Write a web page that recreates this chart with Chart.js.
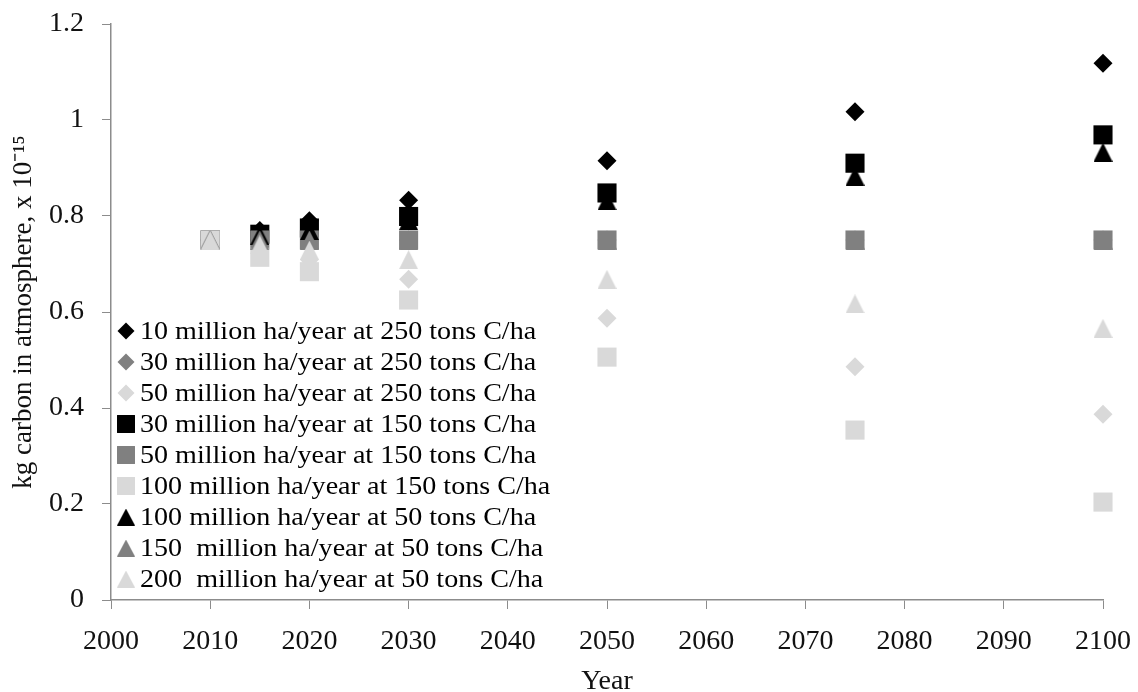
<!DOCTYPE html>
<html>
<head>
<meta charset="utf-8">
<script src="https://cdn.jsdelivr.net/npm/chart.js@4"></script>
<style>
  html, body { margin: 0; padding: 0; background: #fff; }
  #wrap { width: 1138px; height: 692px; }
</style>
</head>
<body>
<div id="wrap"><canvas id="chart" width="1138" height="692"></canvas></div>
<script>
// data
const years = [2010, 2015, 2020, 2030, 2050, 2075, 2100];

const s10at250 = [0.75, 0.77, 0.79, 0.833, 0.915, 1.017, 1.118];
const s30at250 = [0.75, 0.75, 0.75, 0.75, 0.75, 0.75, 0.75];
const s50at250 = [0.75, 0.73, 0.709, 0.668, 0.587, 0.486, 0.387];
const s30at150 = [0.75, 0.762, 0.775, 0.799, 0.848, 0.91, 0.969];
const s50at150 = [0.75, 0.75, 0.75, 0.75, 0.75, 0.75, 0.75];
const s100at150 = [0.75, 0.714, 0.684, 0.625, 0.506, 0.354, 0.204];
const s100at50 = [0.75, 0.76, 0.77, 0.791, 0.832, 0.883, 0.933];
const s150at50 = [0.75, 0.75, 0.75, 0.75, 0.75, 0.75, 0.75];
const s200at50 = [0.75, 0.74, 0.729, 0.709, 0.668, 0.617, 0.566];

const seriesLabels = [
  '10 million ha/year at 250 tons C/ha',
  '30 million ha/year at 250 tons C/ha',
  '50 million ha/year at 250 tons C/ha',
  '30 million ha/year at 150 tons C/ha',
  '50 million ha/year at 150 tons C/ha',
  '100 million ha/year at 150 tons C/ha',
  '100 million ha/year at 50 tons C/ha',
  '150  million ha/year at 50 tons C/ha',
  '200  million ha/year at 50 tons C/ha'
];
const seriesValues = [s10at250, s30at250, s50at250, s30at150, s50at150, s100at150, s100at50, s150at50, s200at50];

const xTicks = [2000, 2010, 2020, 2030, 2040, 2050, 2060, 2070, 2080, 2090, 2100];
const yTicks = [0, 0.2, 0.4, 0.6, 0.8, 1, 1.2];

const BLACK = '#000000', MID = '#808080', LIGHT = '#d9d9d9';
const colors = [BLACK, MID, LIGHT, BLACK, MID, LIGHT, BLACK, MID, LIGHT];
const shapes = ['rectRot', 'rectRot', 'rectRot', 'rect', 'rect', 'rect', 'triangle', 'triangle', 'triangle'];
const radius = {rectRot: 9.5, rect: 13.5, triangle: 10};

const FONT = '"Liberation Serif", "Times New Roman", serif';
const AXIS = '#8c8c8c';
const TEXT = '#111';

// Excel-like triangle: sits inside the same box as the square marker
function triangleMarker(color, w, h) {
  const c = document.createElement('canvas');
  c.width = w; c.height = h;
  const g = c.getContext('2d');
  g.fillStyle = color;
  g.beginPath();
  g.moveTo(0, h);
  g.lineTo(w / 2, 0);
  g.lineTo(w, h);
  g.closePath();
  g.fill();
  return c;
}

const markerFor = (i, big) => shapes[i] === 'triangle'
  ? (big ? triangleMarker(colors[i], 19, 19) : triangleMarker(colors[i], 18, 17))
  : shapes[i];

const datasets = seriesLabels.map((lab, i) => ({
  label: lab,
  data: years.map((yr, j) => ({x: yr, y: seriesValues[i][j]})),
  pointStyle: markerFor(i, true),
  pointRadius: radius[shapes[i]],
  pointHoverRadius: radius[shapes[i]],
  backgroundColor: colors[i],
  borderColor: colors[i],
  pointBorderWidth: 0,
  showLine: false,
  clip: false,
  order: seriesLabels.length - i
}));

// legend drawn inside the plot, lower left
const insideLegend = {
  id: 'insideLegend',
  afterDatasetsDraw(chart) {
    const ctx = chart.ctx;
    ctx.save();
    ctx.font = '26px ' + FONT;
    ctx.textBaseline = 'middle';
    chart.data.datasets.forEach((ds, i) => {
      const y = 331 + i * 31;
      const st = shapes[i];
      const r = st === 'rect' ? 12.7 : 8.5;
      ctx.fillStyle = ds.backgroundColor;
      ctx.strokeStyle = ds.backgroundColor;
      Chart.helpers.drawPoint(ctx, {pointStyle: markerFor(i, false), radius: r, rotation: 0, borderWidth: 0}, 126, y);
      ctx.save();
      ctx.translate(140, y + 1);
      ctx.scale(1.08, 1);
      ctx.fillStyle = '#000';
      ctx.fillText(ds.label, 0, 0);
      ctx.restore();
    });
    ctx.restore();
  }
};

new Chart(document.getElementById('chart'), {
  type: 'scatter',
  data: { datasets: datasets },
  options: {
    responsive: false,
    animation: false,
    layout: { padding: { top: 24, right: 35, left: 0, bottom: 0 } },
    plugins: {
      legend: { display: false },
      tooltip: { enabled: false }
    },
    scales: {
      x: {
        type: 'linear',
        min: 2000,
        max: 2100,
        afterBuildTicks: (s) => { s.ticks = xTicks.map(v => ({value: v})); },
        afterFit: (s) => { s.height = 92; s.paddingLeft = 0; s.paddingRight = 0; },
        ticks: {
          padding: 16,
          color: TEXT,
          font: { family: FONT, size: 28 },
          maxRotation: 0,
          callback: (v) => String(v)
        },
        grid: { drawOnChartArea: false, drawTicks: true, tickLength: 9, color: AXIS },
        border: { color: AXIS, width: 1.5 },
        title: {
          display: true,
          text: 'Year',
          color: TEXT,
          font: { family: FONT, size: 28 },
          padding: { top: 0, bottom: -6 }
        }
      },
      y: {
        type: 'linear',
        min: 0,
        max: 1.2,
        afterBuildTicks: (s) => { s.ticks = yTicks.map(v => ({value: v})); },
        afterFit: (s) => { s.width = 111; s.paddingTop = 0; s.paddingBottom = 0; },
        ticks: {
          padding: 18,
          color: TEXT,
          font: { family: FONT, size: 28 },
          callback: (v) => String(v)
        },
        grid: { drawOnChartArea: false, drawTicks: true, tickLength: 9, color: AXIS },
        border: { color: AXIS, width: 1.5 },
        title: {
          display: true,
          text: 'kg carbon in atmosphere, x 10\u207B\u00B9\u2075',
          color: TEXT,
          font: { family: FONT, size: 27 },
          padding: { top: 8, bottom: 0 }
        }
      }
    }
  },
  plugins: [insideLegend]
});
</script>
</body>
</html>
